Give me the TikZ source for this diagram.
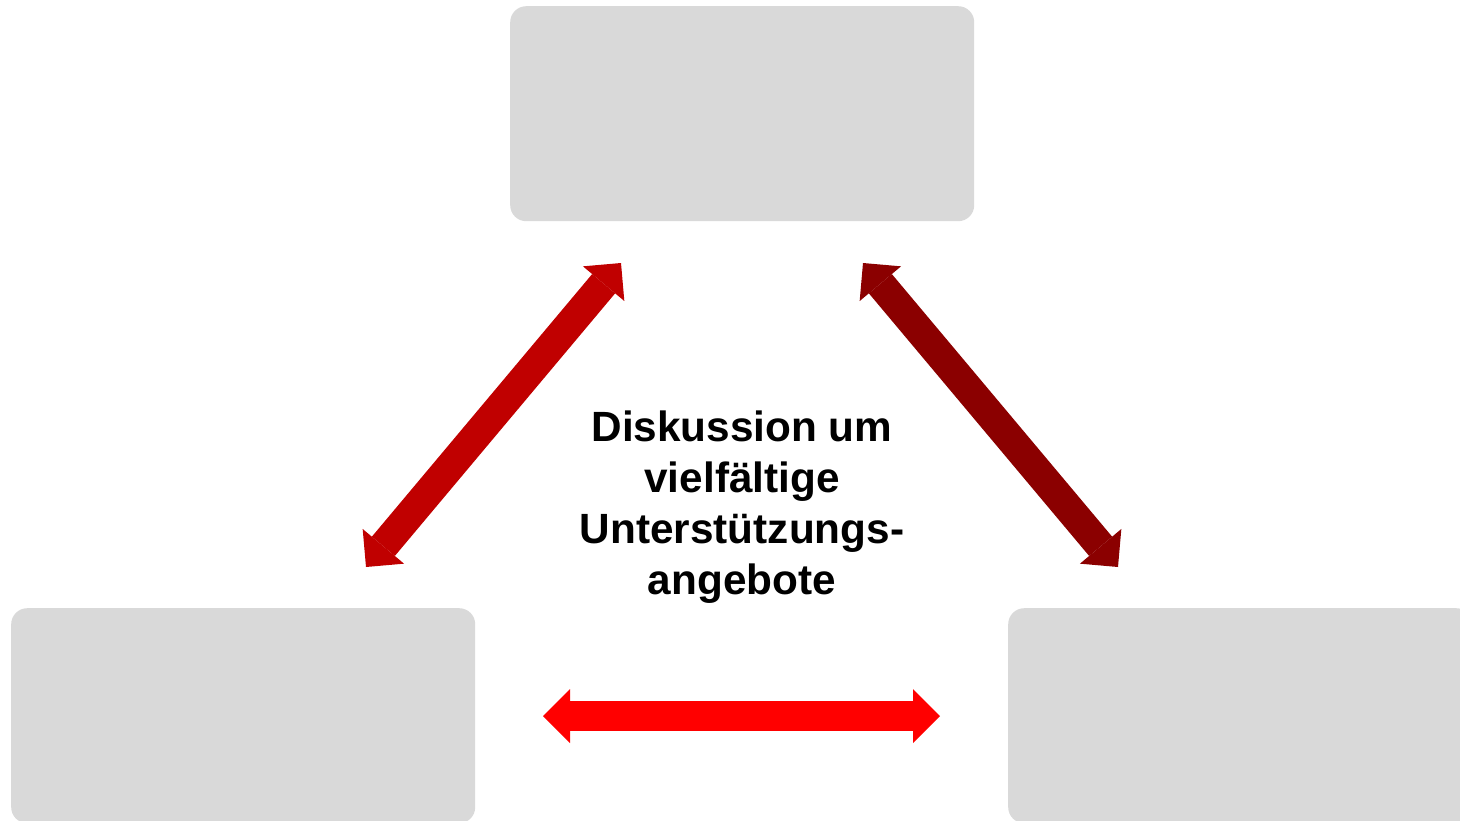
\documentclass[tikz,border=0pt]{standalone}
\usepackage{fontspec}
\setmainfont{Liberation Sans}
\usetikzlibrary{arrows.meta}
\definecolor{boxgray}{HTML}{D9D9D9}
\definecolor{arrowA}{HTML}{C00000}
\definecolor{arrowB}{HTML}{8B0000}
\definecolor{arrowC}{HTML}{FF0000}
\begin{document}
\begin{tikzpicture}[x=1pt,y=-1pt,
  box/.style={fill=boxgray, draw=none, rounded corners=16pt, minimum width=464pt, minimum height=215pt, anchor=north west, inner sep=0pt},
  tip/.tip={Triangle[length=27pt,width=54pt,line width=0pt]},
  dbl/.style={line width=30pt, tip-tip}]
\useasboundingbox (0,0) rectangle (1460,820);
\clip (0,0) rectangle (1460,820);
\node[box] (top) at (510,6) {};
\node[box] (left) at (11,608) {};
\node[box] (right) at (1008,608) {};
\coordinate (L1) at (366,567);
\coordinate (L2) at (621,263);
\coordinate (R1) at (863,263);
\coordinate (R2) at (1118,567);
\coordinate (H1) at (543,716);
\coordinate (H2) at (940,716);
\draw[dbl, arrowA] (L1) -- (L2);
\draw[dbl, arrowB] (R1) -- (R2);
\draw[dbl, arrowC] (H1) -- (H2);
\node[font=\bfseries\fontsize{42.3}{51}\selectfont, align=center, inner sep=0pt] (txt) at (742,507)
  {Diskussion um\\vielfältige\\Unterstützungs-\\angebote};
\end{tikzpicture}
\end{document}
